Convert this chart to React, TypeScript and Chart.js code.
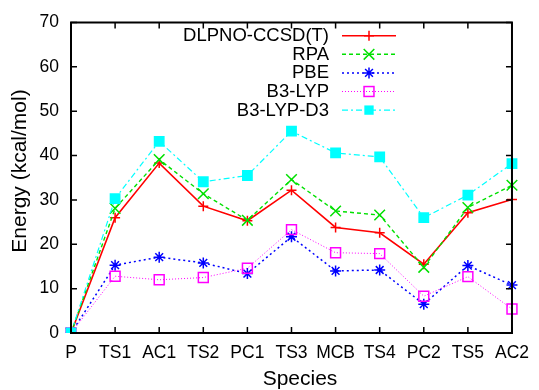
import React, { useEffect, useRef } from "react";
import { Chart, registerables } from "chart.js";

Chart.register(...registerables);

const species = ["P", "TS1", "AC1", "TS2", "PC1", "TS3", "MCB", "TS4", "PC2", "TS5", "AC2"];
const dlpno = [0, 26.0, 38.3, 28.6, 25.3, 32.2, 23.8, 22.6, 15.5, 27.1, 30.1];
const rpa = [0, 28.1, 39.1, 31.4, 25.4, 34.6, 27.5, 26.6, 14.8, 28.3, 33.3];
const pbe = [0, 15.3, 17.1, 15.8, 13.4, 21.7, 14.0, 14.2, 6.5, 15.2, 10.8];
const b3lyp = [0, 12.8, 12.0, 12.5, 14.6, 23.3, 18.1, 17.9, 8.3, 12.7, 5.4];
const b3lypd3 = [0, 30.3, 43.2, 34.1, 35.5, 45.5, 40.6, 39.7, 26.0, 31.1, 38.2];
const yTicks = [0, 10, 20, 30, 40, 50, 60, 70];

const FONT = "'Liberation Sans', Arial, Helvetica, sans-serif";

type SeriesStyle = {
  label: string;
  data: number[];
  color: string;
  dash: number[];
  width: number;
  pointStyle: string;
  radius: number;
  fill: boolean;
};

const series: SeriesStyle[] = [
  { label: "DLPNO-CCSD(T)", data: dlpno, color: "#ff0000", dash: [], width: 1.6, pointStyle: "cross", radius: 5, fill: false },
  { label: "RPA", data: rpa, color: "#00e000", dash: [4, 3], width: 1.4, pointStyle: "crossRot", radius: 7.5, fill: false },
  { label: "PBE", data: pbe, color: "#0000ff", dash: [2, 3], width: 1.5, pointStyle: "star", radius: 5.5, fill: false },
  { label: "B3-LYP", data: b3lyp, color: "#ff00ff", dash: [1, 2], width: 1, pointStyle: "rect", radius: 7, fill: false },
  { label: "B3-LYP-D3", data: b3lypd3, color: "#00ffff", dash: [6, 3, 2, 3], width: 1.2, pointStyle: "rect", radius: 6.6, fill: true },
];

function drawMarker(ctx: CanvasRenderingContext2D, s: SeriesStyle, x: number, y: number) {
  ctx.save();
  ctx.strokeStyle = s.color;
  ctx.fillStyle = s.color;
  ctx.lineWidth = 1.5;
  ctx.setLineDash([]);
  ctx.beginPath();
  const r = s.radius;
  if (s.pointStyle === "cross") {
    ctx.moveTo(x - r, y);
    ctx.lineTo(x + r, y);
    ctx.moveTo(x, y - r);
    ctx.lineTo(x, y + r);
    ctx.stroke();
  } else if (s.pointStyle === "crossRot") {
    const d = r * Math.SQRT1_2;
    ctx.moveTo(x - d, y - d);
    ctx.lineTo(x + d, y + d);
    ctx.moveTo(x + d, y - d);
    ctx.lineTo(x - d, y + d);
    ctx.stroke();
  } else if (s.pointStyle === "star") {
    const d = r * Math.SQRT1_2;
    ctx.moveTo(x - r, y);
    ctx.lineTo(x + r, y);
    ctx.moveTo(x, y - r);
    ctx.lineTo(x, y + r);
    ctx.moveTo(x - d, y - d);
    ctx.lineTo(x + d, y + d);
    ctx.moveTo(x + d, y - d);
    ctx.lineTo(x - d, y + d);
    ctx.stroke();
  } else {
    const h = r * Math.SQRT1_2;
    if (s.fill) {
      ctx.fillRect(x - h, y - h, 2 * h, 2 * h);
    } else {
      ctx.strokeRect(x - h, y - h, 2 * h, 2 * h);
    }
  }
  ctx.restore();
}

const framePlugin = {
  id: "frame",
  afterDatasetsDraw(chart: any) {
    const { ctx, chartArea } = chart;
    const { left, right, top, bottom } = chartArea;
    const xs = chart.scales.x;
    const ys = chart.scales.y;
    ctx.save();
    ctx.strokeStyle = "#000";
    ctx.lineWidth = 1.5;
    ctx.setLineDash([]);
    ctx.beginPath();
    yTicks.forEach((v) => {
      const py = ys.getPixelForValue(v);
      ctx.moveTo(left, py);
      ctx.lineTo(left + 6, py);
      ctx.moveTo(right, py);
      ctx.lineTo(right - 6, py);
    });
    species.forEach((_, i) => {
      const px = xs.getPixelForValue(i);
      ctx.moveTo(px, bottom);
      ctx.lineTo(px, bottom - 6);
      ctx.moveTo(px, top);
      ctx.lineTo(px, top + 6);
    });
    ctx.stroke();
    ctx.lineWidth = 2;
    ctx.strokeRect(left, top, right - left, bottom - top);

    ctx.fillStyle = "#000";
    ctx.font = `21px ${FONT}`;
    ctx.textAlign = "center";
    ctx.textBaseline = "middle";
    ctx.fillText("Species", 300, 379);
    ctx.save();
    ctx.translate(26, 171);
    ctx.rotate(-Math.PI / 2);
    ctx.textBaseline = "alphabetic";
    ctx.fillText("Energy (kcal/mol)", 0, 0);
    ctx.restore();

    const rowY = [35.7, 54.3, 72.9, 91.5, 110.1];
    ctx.font = `18.5px ${FONT}`;
    series.forEach((s, i) => {
      const y = rowY[i];
      ctx.fillStyle = "#000";
      ctx.textAlign = "right";
      ctx.textBaseline = "middle";
      ctx.fillText(s.label, 329, y + 0.5);
      ctx.strokeStyle = s.color;
      ctx.lineWidth = s.width;
      ctx.setLineDash(s.dash);
      ctx.beginPath();
      ctx.moveTo(342, y);
      ctx.lineTo(396, y);
      ctx.stroke();
      drawMarker(ctx, s, 369, y);
    });
    ctx.restore();
  },
};

export default function App() {
  const ref = useRef<HTMLCanvasElement>(null);
  useEffect(() => {
    document.body.style.margin = "0";
    const canvas = ref.current!;
    const chart = new Chart(canvas, {
      type: "line",
      data: {
        labels: species,
        datasets: series.map((s, i) => ({
          label: s.label,
          data: s.data,
          borderColor: s.color,
          backgroundColor: s.fill ? s.color : "rgba(0,0,0,0)",
          borderWidth: s.width,
          borderDash: s.dash,
          pointStyle: s.pointStyle as any,
          pointRadius: s.radius,
          pointBorderColor: s.color,
          pointBackgroundColor: s.fill ? s.color : "rgba(0,0,0,0)",
          pointBorderWidth: 1.5,
          tension: 0,
          fill: false,
          order: series.length - i,
        })),
      },
      options: {
        responsive: false,
        animation: false,
        devicePixelRatio: 1,
        layout: { padding: { top: 22, right: 19, left: 0, bottom: 0 } },
        plugins: { legend: { display: false }, tooltip: { enabled: false } },
        scales: {
          x: {
            type: "category",
            offset: false,
            grid: { display: false, drawTicks: false },
            border: { display: false },
            ticks: {
              color: "#000",
              font: { family: FONT, size: 17.5 },
              padding: 10,
              autoSkip: false,
              maxRotation: 0,
            },
            afterFit(scale: any) {
              scale.height = 57;
            },
          },
          y: {
            min: 0,
            max: 70,
            grid: { display: false, drawTicks: false },
            border: { display: false },
            ticks: {
              stepSize: 10,
              color: "#000",
              font: { family: FONT, size: 17.5 },
              padding: 12,
            },
            afterFit(scale: any) {
              scale.width = 71;
            },
          },
        },
      },
      plugins: [framePlugin],
    });
    return () => chart.destroy();
  }, []);
  return <canvas ref={ref} width={539} height={390} style={{ display: "block" }} />;
}
